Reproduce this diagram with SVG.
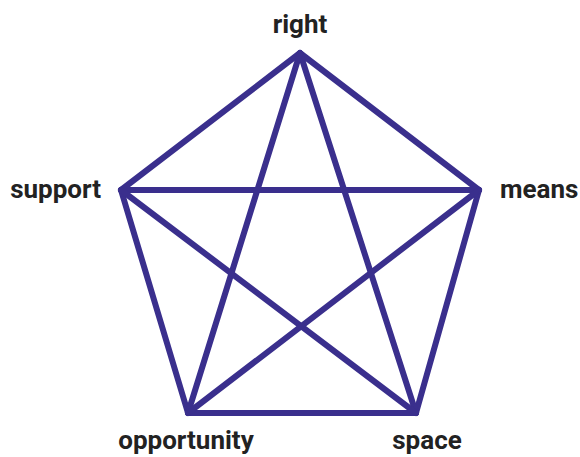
<svg xmlns="http://www.w3.org/2000/svg" width="580" height="457" viewBox="0 0 580 457">
<style>
.e{stroke:#3a2f8d;stroke-width:6;stroke-linejoin:miter;stroke-linecap:round;fill:none}
.t{font-family:Roboto,"Liberation Sans",sans-serif;font-weight:bold;font-size:26px;fill:#222}
</style>
<rect width="580" height="457" fill="#fff"/>
<g id="connectors">
<line class="e" x1="300" y1="53" x2="479" y2="190"/>
<line class="e" x1="479" y1="190" x2="416" y2="413"/>
<line class="e" x1="416" y1="413" x2="188" y2="413"/>
<line class="e" x1="188" y1="413" x2="121" y2="190"/>
<line class="e" x1="121" y1="190" x2="300" y2="53"/>
<line class="e" x1="300" y1="53" x2="416" y2="413"/>
<line class="e" x1="300" y1="53" x2="188" y2="413"/>
<line class="e" x1="121" y1="190" x2="479" y2="190"/>
<line class="e" x1="121" y1="190" x2="416" y2="413"/>
<line class="e" x1="479" y1="190" x2="188" y2="413"/>
</g>
<g id="right"><text class="t" x="300" y="33" text-anchor="middle">right</text></g>
<g id="means"><text class="t" x="500" y="198">means</text></g>
<g id="support"><text class="t" x="101" y="198" text-anchor="end">support</text></g>
<g id="opportunity"><text class="t" x="186" y="449" text-anchor="middle">opportunity</text></g>
<g id="space"><text class="t" x="427" y="449" text-anchor="middle">space</text></g>
</svg>
